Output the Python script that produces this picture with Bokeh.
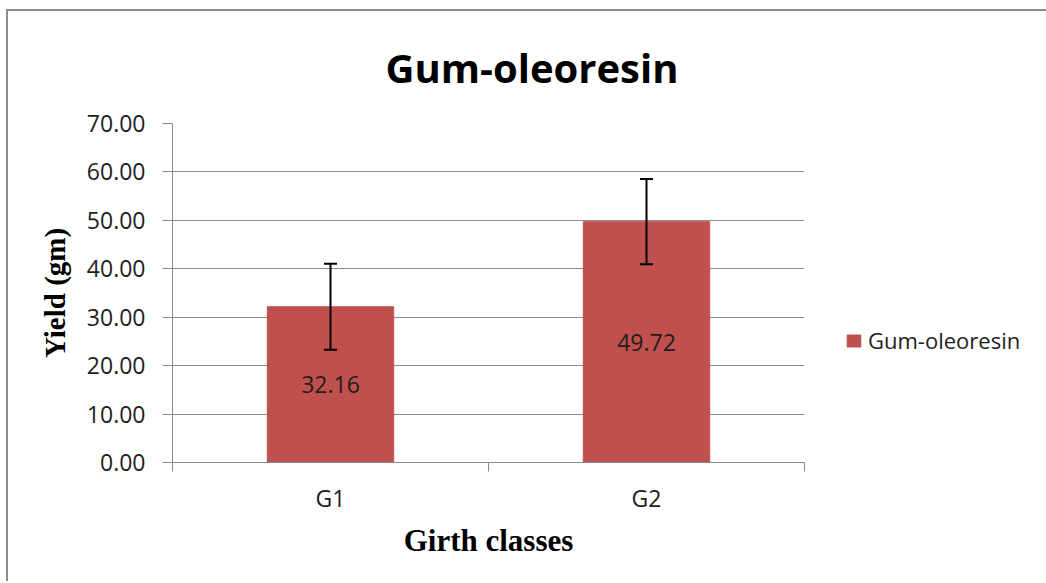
from bokeh.plotting import figure
from bokeh.models import (ColumnDataSource, Whisker, TeeHead, FixedTicker, Legend,
                          LegendItem, Range1d, Title, PrintfTickFormatter)
from bokeh.core.properties import value
from bokeh.embed import file_html
from bokeh.resources import INLINE

# ---- data ----
categories = ["G1", "G2"]
yields = [32.16, 49.72]
errors = [8.9, 8.8]
y_ticks = [0, 10, 20, 30, 40, 50, 60, 70]
series_name = "Gum-oleoresin"
chart_title = "Gum-oleoresin"
x_title = "Girth classes"
y_title = "Yield (gm)"

BAR = "#C0504D"
GRID = "#8a8a8a"
TXT = "#1e1e1e"
SANS = "Open Sans"
SERIF = "Liberation Serif"

xpos = [i + 0.5 for i in range(len(categories))]
src = ColumnDataSource(dict(
    x=xpos,
    top=yields,
    lower=[v - e for v, e in zip(yields, errors)],
    upper=[v + e for v, e in zip(yields, errors)],
    label_y=[v / 2 for v in yields],
    label=[f"{v:.2f}" for v in yields],
))

p = figure(frame_width=632, frame_height=339, output_backend="svg", toolbar_location=None,
           x_range=Range1d(0, len(categories)), y_range=Range1d(y_ticks[0], y_ticks[-1]),
           min_border_left=164, min_border_right=240, min_border_top=112,
           min_border_bottom=119)
p.margin = (9, 0, 0, 6)
p.outline_line_color = None
p.background_fill_color = "white"
p.border_fill_color = "white"
p.styles = {"border-left": "2px solid #8c8c8c", "border-top": "2px solid #8c8c8c"}

p.add_layout(Title(text=chart_title, align="left", offset=213,
                   text_font=SANS, text_font_size="40px", text_font_style="bold",
                   text_color="black", standoff=53, vertical_align="top"), "above")

bars = p.vbar(x="x", top="top", width=0.4, source=src, fill_color=BAR,
              line_color=BAR)

p.add_layout(Whisker(source=src, base="x", lower="lower", upper="upper",
                     dimension="height", line_color="black", line_width=2,
                     level="overlay",
                     upper_head=TeeHead(size=13, line_width=2, line_color="black"),
                     lower_head=TeeHead(size=13, line_width=2, line_color="black")))

p.text(x="x", y="label_y", text="label", source=src, text_align="center",
       text_baseline="middle", text_font=value(SANS), text_font_size="23px",
       text_color=TXT)

# grid
p.xgrid.visible = False
p.ygrid.ticker = FixedTicker(ticks=y_ticks)
p.ygrid.grid_line_color = GRID
p.ygrid.grid_line_width = 1

# y axis
ya = p.yaxis[0]
ya.ticker = FixedTicker(ticks=y_ticks)
ya.formatter = PrintfTickFormatter(format="%.2f")
ya.axis_line_color = GRID
ya.major_tick_line_color = GRID
ya.major_tick_out = 10
ya.major_tick_in = 0
ya.minor_tick_out = 0
ya.minor_tick_in = 0
ya.major_label_standoff = 17
ya.major_label_text_font = SANS
ya.major_label_text_font_size = "23px"
ya.major_label_text_color = TXT
ya.axis_label = y_title
ya.axis_label_text_font = SERIF
ya.axis_label_text_font_size = "29px"
ya.axis_label_text_font_style = "bold"
ya.axis_label_text_color = "black"
ya.axis_label_standoff = 13

# x axis
xa = p.xaxis[0]
xa.ticker = FixedTicker(ticks=xpos, minor_ticks=list(range(len(categories) + 1)))
xa.major_label_overrides = {x: c for x, c in zip(xpos, categories)}
xa.axis_line_color = GRID
xa.major_tick_out = 0
xa.major_tick_in = 0
xa.minor_tick_out = 9
xa.minor_tick_in = 0
xa.minor_tick_line_color = GRID
xa.major_label_standoff = 10
xa.major_label_text_font = SANS
xa.major_label_text_font_size = "23px"
xa.major_label_text_color = TXT
xa.axis_label = x_title
xa.axis_label_text_font = SERIF
xa.axis_label_text_font_size = "31px"
xa.axis_label_text_font_style = "bold"
xa.axis_label_text_color = "black"
xa.axis_label_standoff = 6

legend = Legend(items=[LegendItem(label=series_name, renderers=[bars])],
                location=(41, 107), padding=0, margin=0,
                border_line_color=None, background_fill_alpha=0,
                glyph_width=17, glyph_height=15, label_standoff=6,
                label_text_font=SANS, label_text_font_size="22px",
                label_text_color=TXT)
p.add_layout(legend, "right")

open("out.html", "w").write(file_html(p, INLINE))
